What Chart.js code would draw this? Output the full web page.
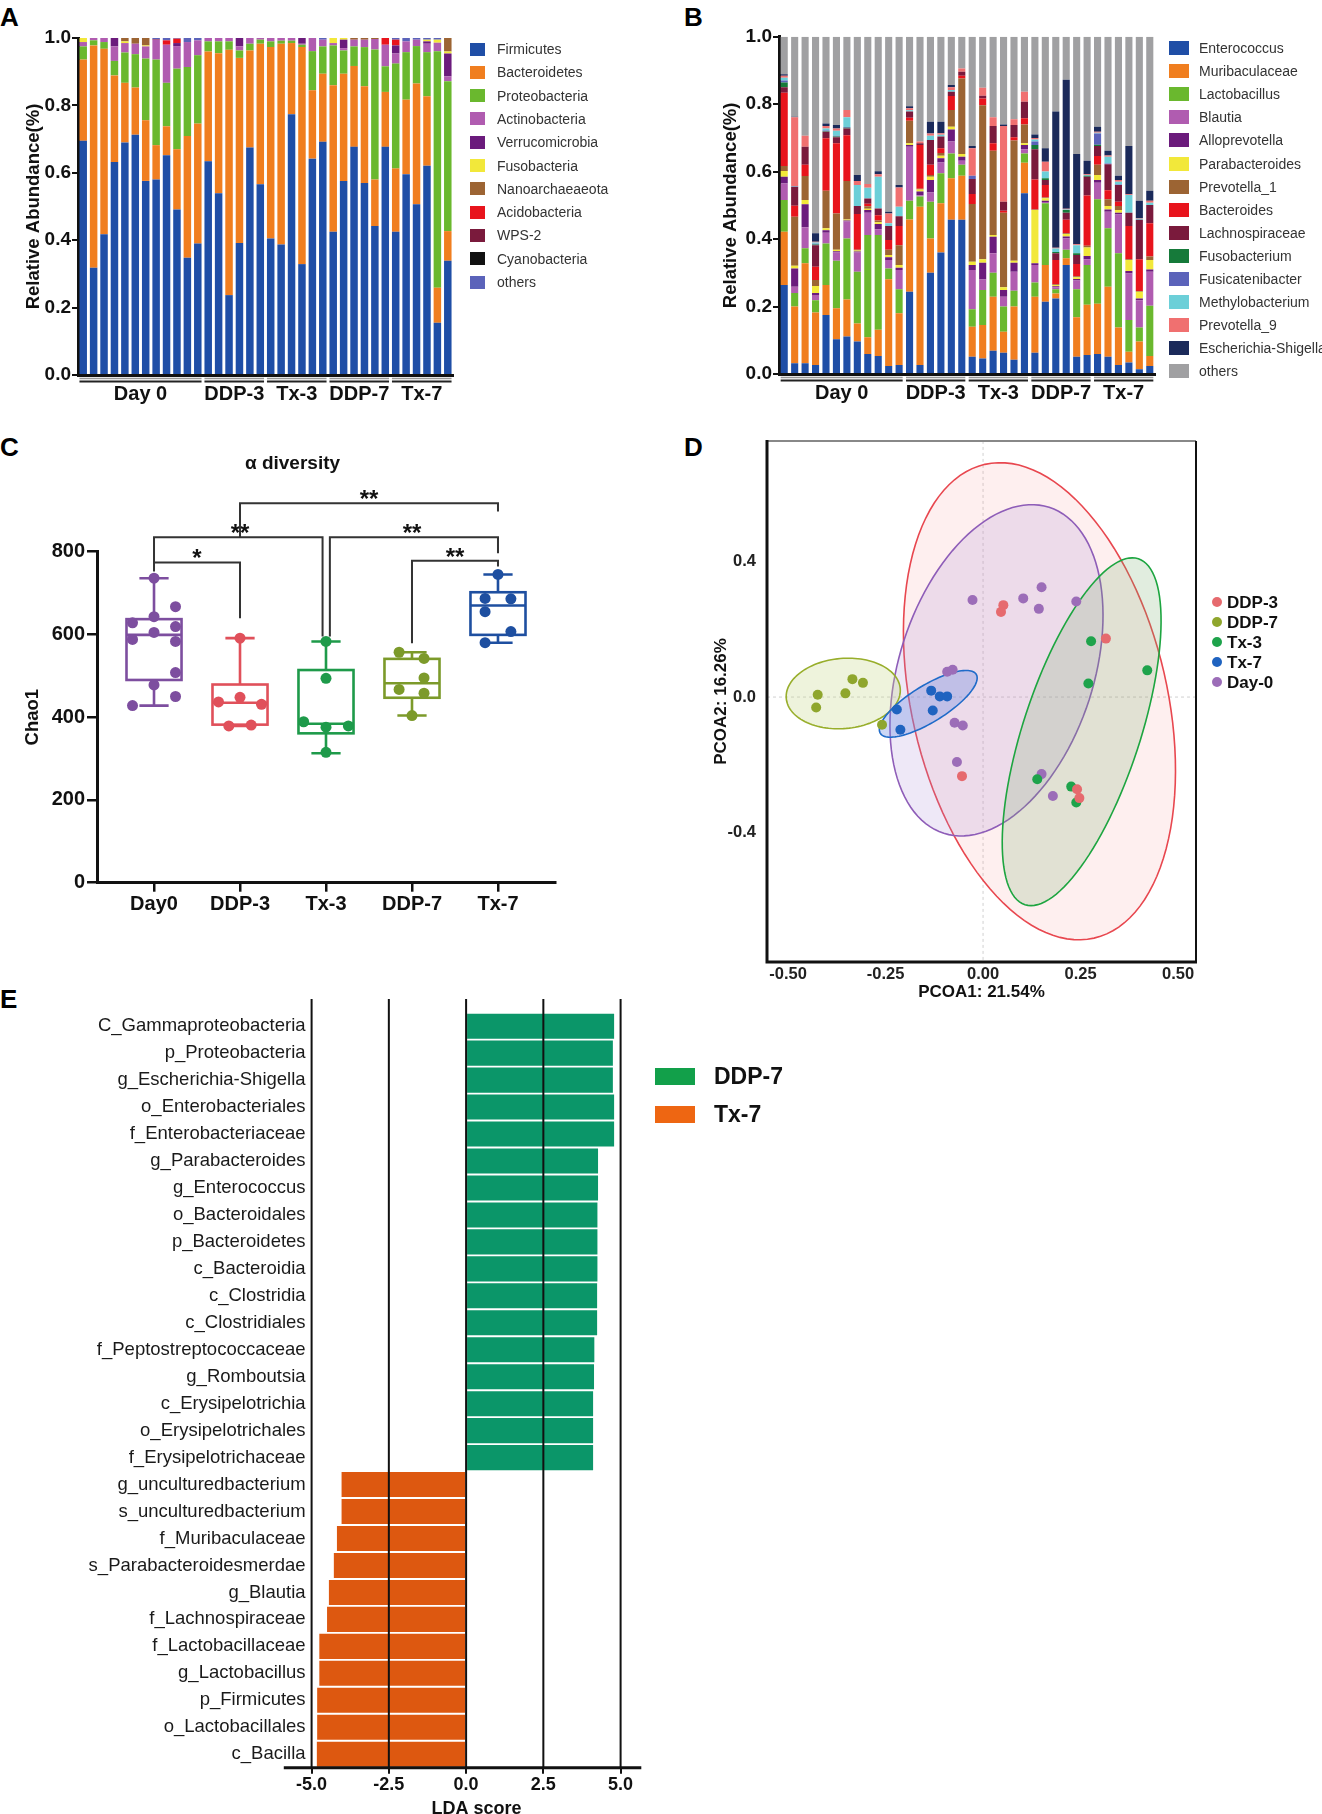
<!DOCTYPE html>
<html><head><meta charset="utf-8">
<script src="https://cdn.jsdelivr.net/npm/chart.js@4.4.1/dist/chart.umd.min.js"></script>
<style>
body{margin:0;background:#fff;width:1322px;height:1814px;position:relative;overflow:hidden;font-family:'Liberation Sans',Arial,sans-serif;}
canvas{position:absolute;}
.plabel{position:absolute;font-weight:bold;font-size:26px;line-height:1;color:#000;}
.lrow{position:absolute;display:flex;align-items:center;white-space:nowrap;line-height:1;}
</style></head><body>
<div class="plabel" style="left:0;top:4px">A</div>
<div class="plabel" style="left:684px;top:4px">B</div>
<div class="plabel" style="left:0;top:434px">C</div>
<div class="plabel" style="left:684px;top:434px">D</div>
<div class="plabel" style="left:0;top:986px">E</div>
<canvas id="cA" width="661" height="420" style="left:0;top:0"></canvas>
<canvas id="cB" width="661" height="420" style="left:661px;top:0"></canvas>
<canvas id="cC" width="661" height="540" style="left:0;top:420px"></canvas>
<canvas id="cD" width="661" height="590" style="left:661px;top:420px"></canvas>
<canvas id="cE" width="661" height="854" style="left:0;top:960px"></canvas>
<script>
// ---------------- DATA ----------------
const groupNames = ['Day 0','DDP-3','Tx-3','DDP-7','Tx-7'];
const groupSizes = [12,6,6,6,6];

// Panel A: phylum relative abundance (36 samples)
const phylumNames = ['Firmicutes','Bacteroidetes','Proteobacteria','Actinobacteria','Verrucomicrobia','Fusobacteria','Nanoarchaeaeota','Acidobacteria','WPS-2','Cyanobacteria','others'];
const firmicutes      = [.695,.318,.418,.632,.690,.713,.576,.580,.652,.491,.348,.390, .634,.539,.237,.392,.675,.566, .405,.387,.774,.329,.642,.692, .425,.576,.677,.570,.442,.677, .425,.596,.507,.621,.155,.339];
const bacteroidetes   = [.241,.660,.550,.257,.177,.140,.180,.102,.086,.179,.361,.356, .326,.416,.728,.549,.288,.417, .568,.596,.211,.644,.203,.202, .435,.318,.240,.287,.138,.163, .188,.221,.358,.206,.104,.088];
const proteobacteria  = [.039,.015,.020,.043,.090,.099,.183,.254,.129,.239,.205,.203, .030,.035,.025,.022,.020,.012, .017,.009,.007,.007,.116,.081, .118,.069,.058,.116,.386,.076, .311,.141,.111,.131,.702,.445];
const actinobacteria  = [.013,.007,.012,.043,.028,.031,.036,.059,.113,.067,.074,.044, .010,.010,.010,.012,.017,.005, .010,.008,.008,.003,.039,.020, .007,.007,.020,.022,.031,.064, .030,.032,.019,.025,.025,.014];
const verrucomicrobia = [0,0,0,.025,0,0,0,0,0,.009,0,0, 0,0,0,.025,0,0, 0,0,0,.017,0,0, 0,.025,0,0,0,0, .024,0,0,.007,0,.068];
const fusobacteria    = [.012,0,0,0,.005,0,.003,0,0,0,0,0, 0,0,0,0,0,0, 0,0,0,0,0,0, .015,.005,0,0,0,0, 0,0,0,.005,.009,.006];
const nanoarchaeaeota = [0,0,0,0,.010,.017,.022,0,0,0,0,0, 0,0,0,0,0,0, 0,0,0,0,0,0, 0,0,.005,.005,.003,0, 0,0,0,0,0,.040];
const acidobacteria   = [0,0,0,0,0,0,0,0,.013,.013,0,0, 0,0,0,0,0,0, 0,0,0,0,0,0, 0,0,0,0,0,.020, .017,0,0,0,0,0];
const wps2            = [0,0,0,0,0,0,0,.002,0,0,0,0, 0,0,0,0,0,0, 0,0,0,0,0,0, 0,0,0,0,0,0, 0,0,0,0,0,0];
const cyanobacteria   = [0,0,0,0,0,0,0,0,0,0,0,0, 0,0,0,0,0,0, 0,0,0,0,0,0, 0,0,0,0,0,0, 0,0,0,0,0,0];
const phylumOthers    = [0,0,0,0,0,0,0,.003,.007,.002,.012,.007, 0,0,0,0,0,0, 0,0,0,0,0,.005, 0,0,0,0,0,0, .005,.010,.005,.005,.005,0];

// Panel B: genus relative abundance (36 samples)
const genusNames = ['Enterococcus','Muribaculaceae','Lactobacillus','Blautia','Alloprevotella','Parabacteroides','Prevotella_1','Bacteroides','Lachnospiraceae','Fusobacterium','Fusicatenibacter','Methylobacterium','Prevotella_9','Escherichia-Shigella','others'];
const enterococcus   = [.264,.032,.032,.027,.175,.103,.111,.096,.059,.053,.024,.027, .244,.027,.300,.360,.457,.457, .051,.046,.069,.063,.042,.536, .063,.214,.224,.323,.051,.056, .059,.051,.027,.034,.014,.024];
const muribaculaceae = [.158,.168,.296,.155,.089,.092,.110,.054,.050,.078,.257,.153, .214,.469,.102,.146,.123,.131, .089,.099,.160,.062,.158,.090, .166,.109,.015,.020,.117,.149, .149,.208,.111,.032,.082,.029];
const lactobacillus  = [.094,.040,.045,.037,.123,.141,.181,.153,.303,.281,.032,.071, .056,.030,.109,.089,.074,.032, .052,.104,.071,.075,.047,.028, .042,.183,.012,.025,.083,.118, .310,.173,.220,.094,.042,.149];
const blautia        = [.049,.019,.062,.015,.032,.024,.050,.057,.066,.017,.025,.057, .160,.004,.027,.032,.035,.012, .116,.031,.058,.029,.056,.012, .052,.004,.006,.034,.026,.017, .049,.049,.115,.138,.081,.101];
const alloprevotella = [.020,.054,.068,.006,.007,.004,.003,.003,.008,.016,.008,.007, .005,.011,.037,.013,.036,.012, .015,.050,.049,.020,.027,.013, .005,.004,.003,.006,.005,.010, .008,.007,.005,.007,.005,.007];
const parabacteroides= [.017,.008,.013,.021,.006,.004,.003,.003,.004,.005,.007,.008, .005,.006,.010,.007,.008,.008, .010,.010,.005,.008,.006,.005, .158,.007,.004,.007,.005,.025, .015,.010,.008,.033,.020,.028];
const prevotella1    = [.015,.145,.071,.018,.111,.108,.114,.002,.007,.005,.015,.059, .067,.002,.005,.008,.050,.224, .171,.457,.250,.221,.356,.056, .002,.002,.002,.002,.003,.005, .030,.020,.012,.002,.002,.010];
const bacteroides    = [.217,.033,.033,.039,.156,.208,.136,.106,.008,.016,.029,.057, .009,.130,.030,.014,.041,.008, .030,.020,.022,.006,.010,.018, .089,.037,.072,.040,.036,.149, .026,.027,.013,.099,.094,.099];
const lachnospiraceae= [.016,.056,.054,.064,.019,.018,.020,.024,.015,.020,.042,.029, .018,.005,.074,.035,.013,.012, .044,.008,.051,.027,.036,.049, .089,.015,.020,.021,.027,.056, .030,.077,.049,.039,.117,.054];
const fusobacterium  = [.014,0,0,.002,.002,.002,.002,0,0,0,0,0, 0,0,0,0,0,0, 0,0,0,0,0,0, .013,.005,.004,.008,.005,.003, .004,0,0,0,0,0];
const fusicatenibacter=[.006,.001,0,.002,.002,.002,.002,0,0,0,0,0, 0,0,0,0,0,0, .010,0,0,0,0,0, .010,0,0,0,0,0, .033,.002,.002,0,0,0];
const methylobacterium=[.008,.001,0,.004,.006,.015,.029,.062,.032,.094,.008,.028, .004,0,.012,.005,.005,0, 0,0,0,0,0,0, .006,.020,.010,.002,.024,.002, .002,.020,.008,.053,.003,.007];
const prevotella9    = [.006,.204,.032,.002,.007,.007,.022,.012,.011,.007,.029,.057, .006,.005,.007,.005,.008,.010, .081,.024,.026,.224,.017,.030, .005,.029,.002,.002,.003,.002, .003,.004,.005,.002,.002,.006];
const escherichia    = [.005,.002,0,.025,.008,.010,0,.018,0,.009,.005,.007, .006,0,.035,.034,.007,0, .007,0,0,.005,0,0, .010,.040,.404,.382,.267,.040, .015,.014,.013,.143,.052,.029];
const genusOthers    = [.111,.237,.294,.583,.257,.262,.217,.410,.437,.399,.519,.440, .206,.311,.252,.252,.143,.094, .324,.151,.239,.260,.245,.163, .290,.331,.222,.128,.348,.368, .267,.338,.412,.324,.486,.457];

// Panel C: Chao1
const chaoGroups = ['Day0','DDP-3','Tx-3','DDP-7','Tx-7'];
const day0Chao = [736,667,628,643,619,588,605,583,508,478,450,428];
const day0Pos  = [0,0.25,-0.25,0,0.25,-0.25,0,0.25,0.25,0,0.25,-0.25];
const ddp3Chao = [591,437,448,431,379,381];
const ddp3Pos  = [0,-0.25,0,0.25,-0.13,0.13];
const tx3Chao  = [583,494,389,376,379,315];
const tx3Pos   = [0,0,-0.26,0,0.26,0];
const ddp7Chao = [557,542,495,467,458,404];
const ddp7Pos  = [-0.15,0.14,0.14,-0.15,0.14,0];
const tx7Chao  = [745,687,686,655,607,580];
const tx7Pos   = [0,-0.15,0.15,-0.15,0.15,-0.15];
const boxMin = [428,379,313,404,580];
const boxQ1  = [490,382,361,447,599];
const boxMed = [599,435,384,482,670];
const boxQ3  = [637,479,514,541,702];
const boxMax = [736,591,583,557,745];
const sigFrom  = [0,0,2,3,1];
const sigTo    = [1,2,4,4,4];
const sigLevel = [774,835,835,778,917];
const sigFromEnd = [752,774,595,579,835];
const sigToEnd   = [639,595,796,764,897];
const sigText  = ['*','**','**','**','**'];

// Panel D: PCoA
const pcoaGroups = ['DDP-3','DDP-7','Tx-3','Tx-7','Day-0'];
const ddp3PC1 = [0.052,0.046,0.315,-0.054,0.241,0.247];
const ddp3PC2 = [0.272,0.252,0.173,-0.234,-0.273,-0.299];
const ddp7PC1 = [-0.335,-0.308,-0.353,-0.424,-0.428,-0.259];
const ddp7PC2 = [0.053,0.042,0.011,0.007,-0.031,-0.082];
const tx3PC1  = [0.277,0.421,0.270,0.139,0.226,0.239];
const tx3PC2  = [0.165,0.079,0.040,-0.243,-0.265,-0.312];
const tx7PC1  = [-0.133,-0.111,-0.092,-0.221,-0.129,-0.212];
const tx7PC2  = [0.019,0.002,0.002,-0.037,-0.040,-0.097];
const day0PC1 = [-0.027,0.103,0.150,0.143,0.239,-0.092,-0.078,-0.073,-0.052,-0.067,0.150,0.179];
const day0PC2 = [0.287,0.292,0.325,0.261,0.283,0.075,0.081,-0.076,-0.084,-0.192,-0.228,-0.293];
// confidence ellipses (data units): centre, conjugate semi-axes u and v, same order as pcoaGroups
const ellipseCenter = [[0.1446,-0.0124],[-0.3585,0.0106],[0.2528,-0.1026],[-0.1405,-0.0200],[0.0344,0.0791]];
const ellipseU = [[0.140,-0.701],[0.1461,0.0147],[0.1454,0.5118],[0.1229,0.0874],[0.1350,0.4823]];
const ellipseV = [[-0.3195,-0.0839],[0.0079,-0.1034],[0.1426,-0.0533],[0.0249,-0.0460],[0.2375,-0.0875]];

// Panel E: LEfSe
const ldaTaxa = ['C_Gammaproteobacteria','p_Proteobacteria','g_Escherichia-Shigella','o_Enterobacteriales','f_Enterobacteriaceae','g_Parabacteroides','g_Enterococcus','o_Bacteroidales','p_Bacteroidetes','c_Bacteroidia','c_Clostridia','c_Clostridiales','f_Peptostreptococcaceae','g_Romboutsia','c_Erysipelotrichia','o_Erysipelotrichales','f_Erysipelotrichaceae','g_unculturedbacterium','s_unculturedbacterium','f_Muribaculaceae','s_Parabacteroidesmerdae','g_Blautia','f_Lachnospiraceae','f_Lactobacillaceae','g_Lactobacillus','p_Firmicutes','o_Lactobacillales','c_Bacilla'];
const ldaScore = [4.79,4.75,4.75,4.79,4.79,4.27,4.27,4.25,4.25,4.25,4.24,4.24,4.15,4.14,4.11,4.11,4.11,-4.03,-4.03,-4.18,-4.28,-4.44,-4.50,-4.75,-4.75,-4.82,-4.82,-4.83];
const ldaGroups = ['DDP-7','Tx-7'];
const xTicksLDA = [-5,-2.5,0,2.5,5];

// ---------------- STYLE ----------------
const FONT = "'Liberation Sans', Arial, sans-serif";
Chart.defaults.font.family = FONT;
Chart.defaults.color = '#111';
const phylumColors = ['#1F4EA6','#F07E1F','#6AB82E','#B05CB0','#6B1B7C','#F2E83A','#9C6433','#E8141C','#7A1A3C','#111111','#5B63BA'];
const genusColors = ['#1F4EA6','#F07E1F','#6AB82E','#B05CB0','#6B1B7C','#F2E83A','#9C6433','#E8141C','#7A1A3C','#167A3A','#5B63BA','#6CCFD8','#F07070','#1B2A5A','#A0A0A2'];
const chaoColors = ['#7D4E9F','#E0505A','#1E9A4A','#7C9A2A','#1E4FA0'];
const pcoaPoint = ['#E66A6E','#8FA62D','#1EA34B','#1F63C0','#9C6DB8'];
const pcoaStroke = ['#E8474F','#98AE2B','#1DA540','#1F6BC9','#8E5DB8'];
const pcoaFill = ['rgba(250,130,130,0.13)','rgba(200,215,140,0.30)','rgba(120,175,110,0.22)','rgba(110,140,225,0.35)','rgba(170,140,215,0.20)'];
const ellipseOrder = [0,4,2,1,3];
const ldaColors = ['#0B9669','#DD5810'];
const ldaLegendColors = ['#12A04A','#EE6612'];

const sampleIds = [];
groupNames.forEach((g,gi)=>{ for(let k=1;k<=groupSizes[gi];k++) sampleIds.push(g+' #'+k); });

// ---------------- helpers ----------------
function groupPlugin(barPct){
  return {id:'groups', afterDraw(chart){
    const x = chart.scales.x, a = chart.chartArea, ctx = chart.ctx;
    const step = x.getPixelForValue(1) - x.getPixelForValue(0);
    const half = step*barPct/2;
    let idx = 0;
    ctx.save();
    groupNames.forEach((g,gi)=>{
      const x0 = x.getPixelForValue(idx) - half;
      const x1 = x.getPixelForValue(idx+groupSizes[gi]-1) + half;
      idx += groupSizes[gi];
      ctx.lineWidth = 1.6; ctx.strokeStyle = '#999';
      ctx.beginPath(); ctx.moveTo(x0, a.bottom+3.5); ctx.lineTo(x1, a.bottom+3.5); ctx.stroke();
      ctx.lineWidth = 2.2; ctx.strokeStyle = '#222';
      ctx.beginPath(); ctx.moveTo(x0, a.bottom+6.5); ctx.lineTo(x1, a.bottom+6.5); ctx.stroke();
      ctx.fillStyle = '#111'; ctx.font = 'bold 20px '+FONT; ctx.textAlign='center'; ctx.textBaseline='middle';
      ctx.fillText(g, (x0+x1)/2, a.bottom+19);
    });
    ctx.restore();
  }};
}
function stackedOptions(pad, yWidth, xHeight){
  return {responsive:false, animation:false,
    layout:{padding:pad},
    plugins:{legend:{display:false}, tooltip:{enabled:false}},
    scales:{
      x:{stacked:true, ticks:{display:false}, grid:{display:false}, border:{display:true,width:3,color:'#111'}, afterFit:s=>{s.height=xHeight;}},
      y:{stacked:true, min:0, max:1,
         ticks:{stepSize:0.2, callback:v=>v.toFixed(1), font:{size:19,weight:'bold'}, color:'#111', padding:1},
         grid:{display:true, drawOnChartArea:false, drawTicks:true, tickLength:6, lineWidth:2, color:'#111'},
         border:{display:true,width:3,color:'#111'},
         title:{display:true, text:'Relative Abundance(%)', font:{size:18.5,weight:'bold'}, color:'#111', padding:0},
         afterFit:s=>{s.width=yWidth;}}
    }};
}
function legend(items, colors, o){
  items.forEach((t,i)=>{
    const row = document.createElement('div');
    row.className='lrow';
    const cy = o.y0 + o.dy*i;
    row.style.left = o.x+'px'; row.style.top = (cy - o.h/2)+'px'; row.style.height = o.h+'px';
    const sw = document.createElement('span');
    sw.style.cssText = 'display:inline-block;flex:none;width:'+o.sw+'px;height:'+o.sh+'px;background:'+colors[i]+';'+(o.round?'border-radius:50%;':'');
    const tx = document.createElement('span');
    tx.textContent = t;
    tx.style.cssText = 'margin-left:'+o.gap+'px;font-size:'+o.fs+'px;font-weight:'+o.fw+';color:'+o.color+';';
    row.appendChild(sw); row.appendChild(tx);
    document.body.appendChild(row);
  });
}

// ---------------- Panel A ----------------
const phylumSeries = [firmicutes,bacteroidetes,proteobacteria,actinobacteria,verrucomicrobia,fusobacteria,nanoarchaeaeota,acidobacteria,wps2,cyanobacteria,phylumOthers];
new Chart(document.getElementById('cA'), {
  type:'bar',
  data:{labels:sampleIds, datasets:phylumNames.map((n,i)=>({label:n, data:phylumSeries[i], backgroundColor:phylumColors[i], borderWidth:0, barPercentage:0.72, categoryPercentage:1}))},
  options:stackedOptions({left:22.6, top:38, right:208, bottom:0}, 55.4, 45),
  plugins:[groupPlugin(0.72)]
});
legend(phylumNames, phylumColors, {x:470, y0:49, dy:23.3, h:20, sw:15, sh:13, gap:12, fs:14, fw:'normal', color:'#333'});

// ---------------- Panel B ----------------
const genusSeries = [enterococcus,muribaculaceae,lactobacillus,blautia,alloprevotella,parabacteroides,prevotella1,bacteroides,lachnospiraceae,fusobacterium,fusicatenibacter,methylobacterium,prevotella9,escherichia,genusOthers];
new Chart(document.getElementById('cB'), {
  type:'bar',
  data:{labels:sampleIds, datasets:genusNames.map((n,i)=>({label:n, data:genusSeries[i], backgroundColor:genusColors[i], borderWidth:0, barPercentage:0.68, categoryPercentage:1}))},
  options:stackedOptions({left:58.9, top:36.7, right:167, bottom:0}, 59.1, 46),
  plugins:[groupPlugin(0.68)]
});
legend(genusNames, genusColors, {x:1169, y0:48, dy:23.1, h:20, sw:20, sh:14, gap:10, fs:14, fw:'normal', color:'#333'});

// ---------------- Panel C ----------------
const chaoVals = [day0Chao, ddp3Chao, tx3Chao, ddp7Chao, tx7Chao];
const chaoPos = [day0Pos, ddp3Pos, tx3Pos, ddp7Pos, tx7Pos];
const boxPlugin = {id:'boxes', beforeDatasetsDraw(chart){
  const xs = chart.scales.x, ys = chart.scales.y, ctx = chart.ctx;
  ctx.save(); ctx.lineWidth = 2.6;
  chaoGroups.forEach((g,i)=>{
    const cx = xs.getPixelForValue(i);
    const hw = xs.getPixelForValue(i+0.32) - cx;
    const cw = xs.getPixelForValue(i+0.17) - cx;
    const q1 = ys.getPixelForValue(boxQ1[i]), q3 = ys.getPixelForValue(boxQ3[i]), md = ys.getPixelForValue(boxMed[i]);
    const mn = ys.getPixelForValue(boxMin[i]), mx = ys.getPixelForValue(boxMax[i]);
    ctx.strokeStyle = chaoColors[i];
    ctx.strokeRect(cx-hw, q3, 2*hw, q1-q3);
    ctx.beginPath();
    ctx.moveTo(cx-hw, md); ctx.lineTo(cx+hw, md);
    ctx.moveTo(cx, q3); ctx.lineTo(cx, mx); ctx.moveTo(cx-cw, mx); ctx.lineTo(cx+cw, mx);
    if (mn < q1 - 0.5 || mn > q1 + 0.5) { ctx.moveTo(cx, q1); ctx.lineTo(cx, mn); ctx.moveTo(cx-cw, mn); ctx.lineTo(cx+cw, mn); }
    ctx.stroke();
  });
  ctx.restore();
}, afterDraw(chart){
  const xs = chart.scales.x, ys = chart.scales.y, ctx = chart.ctx;
  const nudge = [[0,0],[0,-0.04],[0.045,0],[0,0],[0,0]];
  ctx.save(); ctx.lineWidth = 2; ctx.strokeStyle = '#333'; ctx.fillStyle = '#111';
  ctx.font = 'bold 24px '+FONT; ctx.textAlign = 'center'; ctx.textBaseline = 'alphabetic';
  sigFrom.forEach((f,k)=>{
    const x1 = xs.getPixelForValue(f + nudge[k][0]), x2 = xs.getPixelForValue(sigTo[k] + nudge[k][1]);
    const yl = ys.getPixelForValue(sigLevel[k]);
    ctx.beginPath();
    ctx.moveTo(x1, ys.getPixelForValue(sigFromEnd[k])); ctx.lineTo(x1, yl); ctx.lineTo(x2, yl); ctx.lineTo(x2, ys.getPixelForValue(sigToEnd[k]));
    ctx.stroke();
    ctx.fillText(sigText[k], (xs.getPixelForValue(f)+xs.getPixelForValue(sigTo[k]))/2, yl + 4);
  });
  ctx.restore();
}};
new Chart(document.getElementById('cC'), {
  type:'scatter',
  data:{datasets:chaoGroups.map((g,i)=>({label:g, data:chaoVals[i].map((v,k)=>({x:i+chaoPos[i][k], y:v})), backgroundColor:chaoColors[i], borderWidth:0, pointRadius:5.5}))},
  options:{responsive:false, animation:false,
    layout:{padding:{left:30, top:32.6, right:106, bottom:0}},
    plugins:{legend:{display:false}, tooltip:{enabled:false},
      title:{display:true, text:'α diversity', font:{size:19,weight:'bold'}, color:'#111', padding:{top:0,bottom:76.3}}},
    scales:{
      x:{type:'linear', min:-0.663, max:4.663,
         afterBuildTicks:s=>{ s.ticks = chaoGroups.map((g,i)=>({value:i})); },
         ticks:{callback:v=>chaoGroups[v], font:{size:20,weight:'bold'}, color:'#111', padding:1, autoSkip:false, maxRotation:0},
         grid:{display:true, drawOnChartArea:false, drawTicks:true, tickLength:9, lineWidth:2.5, color:'#111'},
         border:{display:true, width:3, color:'#111'},
         afterFit:s=>{s.height=77.3;}},
      y:{min:0, max:800, ticks:{stepSize:200, font:{size:20,weight:'bold'}, color:'#111', padding:2},
         grid:{display:true, drawOnChartArea:false, drawTicks:true, tickLength:10, lineWidth:2.5, color:'#111'},
         border:{display:true, width:3, color:'#111'},
         title:{display:true, text:'Chao1', font:{size:18.5,weight:'bold'}, color:'#111', padding:{top:-8,bottom:0}},
         afterFit:s=>{s.width=67;}}
    }},
  plugins:[boxPlugin]
});

// ---------------- Panel D ----------------
const pc1 = [ddp3PC1, ddp7PC1, tx3PC1, tx7PC1, day0PC1];
const pc2 = [ddp3PC2, ddp7PC2, tx3PC2, tx7PC2, day0PC2];
const pcoaPlugin = {id:'pcoa', beforeDatasetsDraw(chart){
  const xs = chart.scales.x, ys = chart.scales.y, ctx = chart.ctx, a = chart.chartArea;
  ctx.save();
  ctx.setLineDash([3,3]); ctx.strokeStyle = '#d0d0d0'; ctx.lineWidth = 1;
  ctx.beginPath();
  ctx.moveTo(xs.getPixelForValue(0), a.top); ctx.lineTo(xs.getPixelForValue(0), a.bottom);
  ctx.moveTo(a.left, ys.getPixelForValue(0)); ctx.lineTo(a.right, ys.getPixelForValue(0));
  ctx.stroke(); ctx.setLineDash([]);
  ellipseOrder.forEach(i=>{
    const c = ellipseCenter[i], u = ellipseU[i], v = ellipseV[i];
    ctx.beginPath();
    for (let k=0;k<=120;k++){
      const t = k/120*2*Math.PI;
      const px = xs.getPixelForValue(c[0] + u[0]*Math.cos(t) + v[0]*Math.sin(t));
      const py = ys.getPixelForValue(c[1] + u[1]*Math.cos(t) + v[1]*Math.sin(t));
      if (k===0) ctx.moveTo(px,py); else ctx.lineTo(px,py);
    }
    ctx.closePath();
    ctx.fillStyle = pcoaFill[i]; ctx.fill();
    ctx.strokeStyle = pcoaStroke[i]; ctx.lineWidth = 1.6; ctx.stroke();
  });
  ctx.restore();
}, afterDraw(chart){
  const a = chart.chartArea, ctx = chart.ctx;
  ctx.save();
  ctx.strokeStyle = '#888'; ctx.lineWidth = 2;
  ctx.beginPath(); ctx.moveTo(a.left, a.top); ctx.lineTo(a.right, a.top); ctx.stroke();
  ctx.strokeStyle = '#111'; ctx.lineWidth = 2;
  ctx.beginPath(); ctx.moveTo(a.right, a.top); ctx.lineTo(a.right, a.bottom); ctx.stroke();
  ctx.lineWidth = 3;
  ctx.beginPath(); ctx.moveTo(a.left, a.top-1); ctx.lineTo(a.left, a.bottom); ctx.lineTo(a.right+1, a.bottom); ctx.stroke();
  ctx.restore();
}};
new Chart(document.getElementById('cD'), {
  type:'scatter',
  data:{datasets:pcoaGroups.map((g,i)=>({label:g, data:pc1[i].map((x,k)=>({x:x, y:pc2[i][k]})), backgroundColor:pcoaPoint[i], borderWidth:0, pointRadius:5}))},
  options:{responsive:false, animation:false,
    layout:{padding:{left:50, top:18, right:126, bottom:0}},
    plugins:{legend:{display:false}, tooltip:{enabled:false}},
    scales:{
      x:{type:'linear', min:-0.554, max:0.546,
         afterBuildTicks:s=>{ s.ticks = [-0.5,-0.25,0,0.25,0.5].map(v=>({value:v})); },
         ticks:{callback:v=>v.toFixed(2), font:{size:16.5,weight:'bold'}, color:'#222', padding:3, maxRotation:0},
         grid:{display:false, drawTicks:false}, border:{display:false},
         title:{display:true, text:'PCOA1: 21.54%', font:{size:17,weight:'bold'}, color:'#111', padding:{top:0,bottom:7.3}},
         afterFit:s=>{s.height=48;}},
      y:{min:-0.784, max:0.758,
         afterBuildTicks:s=>{ s.ticks = [-0.4,0,0.4].map(v=>({value:v})); },
         ticks:{callback:v=>v.toFixed(1), font:{size:16.5,weight:'bold'}, color:'#222', padding:11},
         grid:{display:false, drawTicks:false}, border:{display:false},
         title:{display:true, text:'PCOA2: 16.26%', font:{size:17,weight:'bold'}, color:'#111', padding:0},
         afterFit:s=>{s.width=56;}}
    }},
  plugins:[pcoaPlugin]
});
legend(pcoaGroups, pcoaPoint, {x:1212, y0:602, dy:20, h:20, sw:10, sh:10, round:true, gap:5, fs:17, fw:'bold', color:'#111'});

// ---------------- Panel E ----------------
const ldaPlugin = {id:'lda', afterDatasetsDraw(chart){
  const xs = chart.scales.x, a = chart.chartArea, ctx = chart.ctx;
  ctx.save(); ctx.strokeStyle = '#111'; ctx.lineWidth = 2;
  ctx.beginPath();
  xTicksLDA.forEach(v=>{ const px = xs.getPixelForValue(v); ctx.moveTo(px, a.top-13.7); ctx.lineTo(px, a.bottom); });
  ctx.stroke();
  ctx.lineWidth = 3;
  ctx.beginPath(); ctx.moveTo(xs.getPixelForValue(-5.9), a.bottom); ctx.lineTo(a.right, a.bottom); ctx.stroke();
  ctx.restore();
}};
new Chart(document.getElementById('cE'), {
  type:'bar',
  data:{labels:ldaTaxa, datasets:[{label:'LDA', data:ldaScore, backgroundColor:c=>c.raw>=0?ldaColors[0]:ldaColors[1], borderWidth:0, barPercentage:0.93, categoryPercentage:1}]},
  options:{indexAxis:'y', responsive:false, animation:false,
    layout:{padding:{left:0, top:52.7, right:19.7, bottom:0}},
    plugins:{legend:{display:false}, tooltip:{enabled:false}},
    scales:{
      x:{type:'linear', min:-5, max:5.67,
         afterBuildTicks:s=>{ s.ticks = xTicksLDA.map(v=>({value:v})); },
         ticks:{callback:v=>v.toFixed(1), font:{size:18,weight:'bold'}, color:'#111', padding:1, maxRotation:0},
         grid:{display:true, drawOnChartArea:false, drawTicks:true, tickLength:6, lineWidth:2, color:'#111'},
         border:{display:false},
         title:{display:true, text:'LDA score', font:{size:18,weight:'bold', lineHeight:0.6}, color:'#111', padding:0},
         afterFit:s=>{s.height=46.3;}},
      y:{ticks:{font:{size:18.5}, color:'#1a1a1a', padding:6, autoSkip:false},
         grid:{display:false, drawTicks:false}, border:{display:false},
         afterFit:s=>{s.width=311.6;}}
    }},
  plugins:[ldaPlugin]
});
legend(ldaGroups, ldaLegendColors, {x:655, y0:1076.5, dy:38, h:26, sw:40, sh:17, gap:19, fs:23, fw:'bold', color:'#111'});
</script>
</body></html>
